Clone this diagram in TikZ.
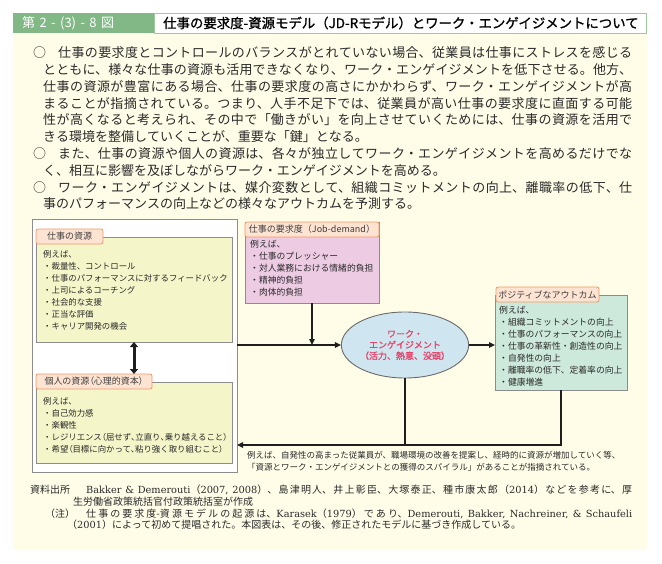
\documentclass[tikz,border=0pt]{standalone}
\usepackage{fontspec}
\setmainfont{Noto Sans CJK JP}
\newfontfamily\jpbold[FakeBold=1.2]{Noto Sans CJK JP}
\newfontfamily\jpprop[RawFeature=+palt]{Noto Sans CJK JP}
\newfontfamily\lserif[Scale=0.98]{DejaVu Serif}
\usetikzlibrary{arrows.meta,shapes.geometric}
\XeTeXlinebreaklocale "ja"
\XeTeXlinebreakskip=0pt plus 1.5pt
\definecolor{bgcream}{HTML}{FFFDE8}
\definecolor{hdrgreen}{HTML}{82B886}
\definecolor{titleborder}{HTML}{9CCB9C}
\definecolor{boxgray}{HTML}{8C8C8C}
\definecolor{yfill}{HTML}{F4F5C8}
\definecolor{dfill}{HTML}{ECCBE3}
\definecolor{ofill}{HTML}{CCE9DB}
\definecolor{tabfill}{HTML}{FCE3D2}
\definecolor{taborange}{HTML}{EE9966}
\definecolor{ellfill}{HTML}{CFE6F0}
\definecolor{ellgray}{HTML}{6A6A6A}
\definecolor{engred}{HTML}{E4456A}
\definecolor{txt}{HTML}{2A2A2A}
\definecolor{linec}{HTML}{1E1E1E}
\newcommand\hdrgap{\hspace{4.4pt}}
\newcommand\pp[1]{{\jpprop #1}}
\tikzset{
  boxshape/.style={draw=boxgray, line width=0.8pt, inner sep=0pt, outer sep=0pt, anchor=north west},
  tabshape/.style={draw=taborange, fill=tabfill, rounded corners=2pt, line width=0.8pt, inner sep=0pt, outer sep=0pt, anchor=north west, font=\fontsize{9}{10}\selectfont, text=txt!90},
  bodytxt/.style={font=\fontsize{8.8}{12}\selectfont, align=left, anchor=north west, inner sep=0pt, text=txt},
  leftbody/.style={bodytxt, font=\fontsize{8.4}{12.1}\selectfont},
  foot/.style={font=\fontsize{10}{12}\selectfont, anchor=west, inner sep=0pt, text=txt},
  footjust/.style={foot, align=justify},
  arr/.style={line width=1.3pt, draw=linec, -{Triangle[length=6pt,width=5.5pt]}},
  plainline/.style={line width=1.3pt, draw=linec},
  dblarr/.style={line width=3pt, draw=linec, {Triangle[length=5pt,width=8pt]}-{Triangle[length=5pt,width=8pt]}}
}
\begin{document}
\begin{tikzpicture}[x=1pt,y=-1pt]
\path[use as bounding box, fill=white] (0,0) rectangle (662,563);
\fill[bgcream] (13,33) rectangle (647,550);
% header
\node (hdr) [fill=hdrgreen, minimum width=141pt, minimum height=20pt, inner sep=0pt, outer sep=0pt, anchor=north west] at (13,13) {};
\node (hdrtxt) [anchor=west, inner sep=0pt, text=white, font=\fontsize{13}{13}\selectfont] at (22,23) {第\hdrgap 2\hdrgap -\hdrgap (3)\hdrgap -\hdrgap 8\hdrgap 図};
\node (title) [draw=titleborder, fill=white, line width=0.8pt, minimum width=492pt, minimum height=20pt, inner sep=0pt, outer sep=0pt, anchor=north west] at (154,13) {};
\node (titletxt) [anchor=west, inner sep=0pt, text=black, font=\jpbold\fontsize{13.4}{14}\selectfont] at (163,23) {仕事の要求度-資源モデル（JD-Rモデル）とワーク・エンゲイジメントについて};
% paragraphs
\node (para) [anchor=north west, inner sep=0pt, text width=589pt, align=justify, text=txt, font=\fontsize{13}{16.8}\selectfont] at (43,46.5) {\parindent=0pt\parskip=0pt
\hspace*{-10pt}\makebox[25pt][l]{○}仕事の要求度とコントロールのバランスがとれていない場合、従業員は仕事にストレスを感じる\linebreak
とともに、様々な仕事の資源も活用できなくなり、ワーク・エンゲイジメントを低下させる。他方、\linebreak
仕事の資源が豊富にある場合、仕事の要求度の高さにかかわらず、ワーク・エンゲイジメントが高\linebreak
まることが指摘されている。つまり、人手不足下では、従業員が高い仕事の要求度に直面する可能\linebreak
性が高くなると考えられ、その中で「働きがい」を向上させていくためには、仕事の資源を活用で\linebreak
きる環境を整備していくことが、重要な「鍵」となる。\par
\hspace*{-10pt}\makebox[25pt][l]{○}また、仕事の資源や個人の資源は、各々が独立してワーク・エンゲイジメントを高めるだけでな\linebreak
く、相互に影響を及ぼしながらワーク・エンゲイジメントを高める。\par
\hspace*{-10pt}\makebox[25pt][l]{○}ワーク・エンゲイジメントは、媒介変数として、組織コミットメントの向上、離職率の低下、仕\linebreak
事のパフォーマンスの向上などの様々なアウトカムを予測する。\par};
% white frame
\node (wb) [boxshape, fill=white, minimum width=205pt, minimum height=253pt] at (32,219) {};
% job resources
\node (res) [boxshape, fill=yfill, minimum width=196pt, minimum height=105pt] at (36,237) {};
\node (restab) [tabshape, minimum width=67pt, minimum height=15pt] at (36,229) {仕事の資源};
\node (restxt) [leftbody] at (43,249.8) {例えば、\\・裁量性、コントロール\\・仕事のパフォーマンスに対するフィードバック\\・上司によるコーチング\\・社会的な支援\\・正当な評価\\・キャリア開発の機会};
% personal resources
\node (pres) [boxshape, fill=yfill, minimum width=196pt, minimum height=81pt] at (36,382) {};
\node (prestab) [tabshape, minimum width=116pt, minimum height=15pt] at (36,374) {個人の資源\pp{（}心理的資本\pp{）}};
\node (prestxt) [leftbody] at (43,396.8) {例えば、\\・自己効力感\\・楽観性\\・レジリエンス\pp{（}屈せず\pp{、}立直り\pp{、}乗り越えること\pp{）}\\・希望\pp{（}目標に向かって\pp{、}粘り強く取り組むこと\pp{）}};
% job demands
\node (dem) [boxshape, fill=dfill, minimum width=134pt, minimum height=81pt] at (245,222) {};
\node (demtab) [tabshape, minimum width=134pt, minimum height=15pt] at (245,222) {仕事の要求度（Job-demand）};
\node (demtxt) [bodytxt] at (250,239.5) {例えば、\\・仕事のプレッシャー\\・対人業務における情緒的負担\\・精神的負担\\・肉体的負担};
% outcomes
\node (out) [boxshape, fill=ofill, minimum width=132pt, minimum height=95pt] at (495,295) {};
\node (outtab) [tabshape, minimum width=103pt, minimum height=15pt] at (496,287) {ポジティブなアウトカム};
\node (outtxt) [bodytxt] at (499,305.5) {例えば、\\・組織コミットメントの向上\\・仕事のパフォーマンスの向上\\・仕事の革新性・創造性の向上\\・自発性の向上\\・離職率の低下、定着率の向上\\・健康増進};
% engagement
\node (eng) [ellipse, draw=ellgray, fill=ellfill, line width=0.9pt, minimum width=126pt, minimum height=66pt, inner sep=0pt, align=center, text=engred, font=\jpbold\fontsize{9}{11}\selectfont] at (405,345) {ワーク・\\エンゲイジメント\\（活力、熱意、没頭）};
% spiral note
\node (note) [bodytxt, font=\fontsize{8.5}{12}\selectfont] at (247,450.7) {例えば、自発性の高まった従業員が、職場環境の改善を提案し、経時的に資源が増加していく等、\\「資源とワーク・エンゲイジメントとの獲得のスパイラル」があることが指摘されている。};
% connectors
\draw[dblarr] (res.south) -- (prestab.north -| res.south);
\draw[arr] (wb.east |- eng.west) -- (eng.west);
\draw[arr] (dem.south) -- (dem.south |- eng.west);
\draw[arr] (eng.east) -- (out.west |- eng.east);
\coordinate (fbl) at (237,445);
\draw[plainline] (eng.south) -- (eng.south |- fbl);
\draw[arr] (out.south) -- (out.south |- fbl) -- (fbl);
% footer
\node (src1) [footjust, text width=602pt] at (30,490) {\parindent=0pt\XeTeXlinebreakskip=0pt plus 3pt\parfillskip=0pt \makebox[56pt][l]{資料出所}{\lserif Bakker \& Demerouti}（{\lserif 2007, 2008}）、島津明人、井上彰臣、大塚泰正、種市康太郎（{\lserif 2014}）などを参考に、厚\par};
\node (src2) [foot] at (73,502) {生労働省政策統括官付政策統括室が作成};
\node (note1) [footjust, text width=587pt] at (45,513.5) {\parindent=0pt\XeTeXlinebreakskip=0pt plus 3pt\parfillskip=0pt \makebox[41pt][l]{（注）}仕事の要求度-資源モデルの起源は、{\lserif Karasek}（{\lserif 1979}）であり、{\lserif Demerouti, Bakker, Nachreiner, \& Schaufeli}\par};
\node (note2) [foot] at (67,525) {（{\lserif 2001}）によって初めて提唱された。本図表は、その後、修正されたモデルに基づき作成している。};
\end{tikzpicture}
\end{document}
